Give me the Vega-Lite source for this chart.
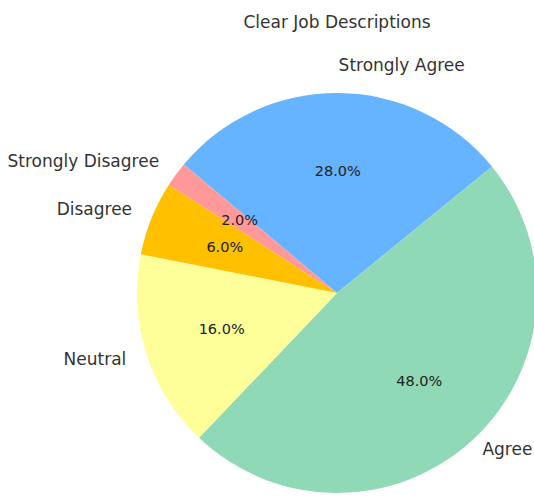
{
  "$schema": "https://vega.github.io/schema/vega-lite/v6.json",
  "width": 388,
  "height": 412,
  "autosize": "none",
  "padding": {"left": 143, "top": 87, "right": 3, "bottom": 4},
  "background": "white",
  "title": {
    "text": "Clear Job Descriptions",
    "font": "DejaVu Sans",
    "fontSize": 17,
    "fontWeight": "normal",
    "color": "#333333",
    "anchor": "middle",
    "frame": "group",
    "baseline": "alphabetic",
    "offset": 12
  },
  "data": {
    "values": [
      {"response": "Strongly Agree", "share": 0.28, "rank": 1},
      {"response": "Agree", "share": 0.48, "rank": 2},
      {"response": "Neutral", "share": 0.16, "rank": 3},
      {"response": "Disagree", "share": 0.06, "rank": 4},
      {"response": "Strongly Disagree", "share": 0.02, "rank": 5}
    ]
  },
  "encoding": {
    "theta": {"field": "share", "type": "quantitative", "stack": true, "scale": {"range": [-0.87266, 5.41052]}},
    "order": {"field": "rank", "type": "quantitative", "sort": "ascending"}
  },
  "layer": [
    {
      "mark": {"type": "arc", "outerRadius": 200, "strokeWidth": 0},
      "encoding": {
        "color": {
          "field": "response",
          "type": "nominal",
          "scale": {
            "domain": ["Strongly Agree", "Agree", "Neutral", "Disagree", "Strongly Disagree"],
            "range": ["#66b3ff", "#8fd9b6", "#ffff99", "#ffc000", "#ff9999"]
          },
          "legend": null
        }
      }
    },
    {
      "mark": {"type": "text", "radius": 227, "align": "left", "baseline": "middle", "font": "DejaVu Sans", "fontSize": 17, "color": "#333333"},
      "encoding": {
        "text": {"condition": {"test": "datum.response === 'Strongly Agree'", "field": "response"}, "value": ""}
      }
    },
    {
      "mark": {"type": "text", "radius": 214, "align": "left", "baseline": "middle", "font": "DejaVu Sans", "fontSize": 17, "color": "#333333"},
      "encoding": {
        "text": {"condition": {"test": "datum.response === 'Agree'", "field": "response"}, "value": ""}
      }
    },
    {
      "mark": {"type": "text", "radius": 221, "align": "right", "baseline": "middle", "font": "DejaVu Sans", "fontSize": 17, "color": "#333333"},
      "encoding": {
        "text": {"condition": {"test": "datum.response !== 'Strongly Agree' && datum.response !== 'Agree'", "field": "response"}, "value": ""}
      }
    },
    {
      "mark": {"type": "text", "radius": 121, "align": "center", "baseline": "middle", "font": "DejaVu Sans", "fontSize": 14.5, "color": "#222222"},
      "encoding": {
        "text": {"field": "share", "type": "quantitative", "format": ".1%"}
      }
    }
  ]
}
